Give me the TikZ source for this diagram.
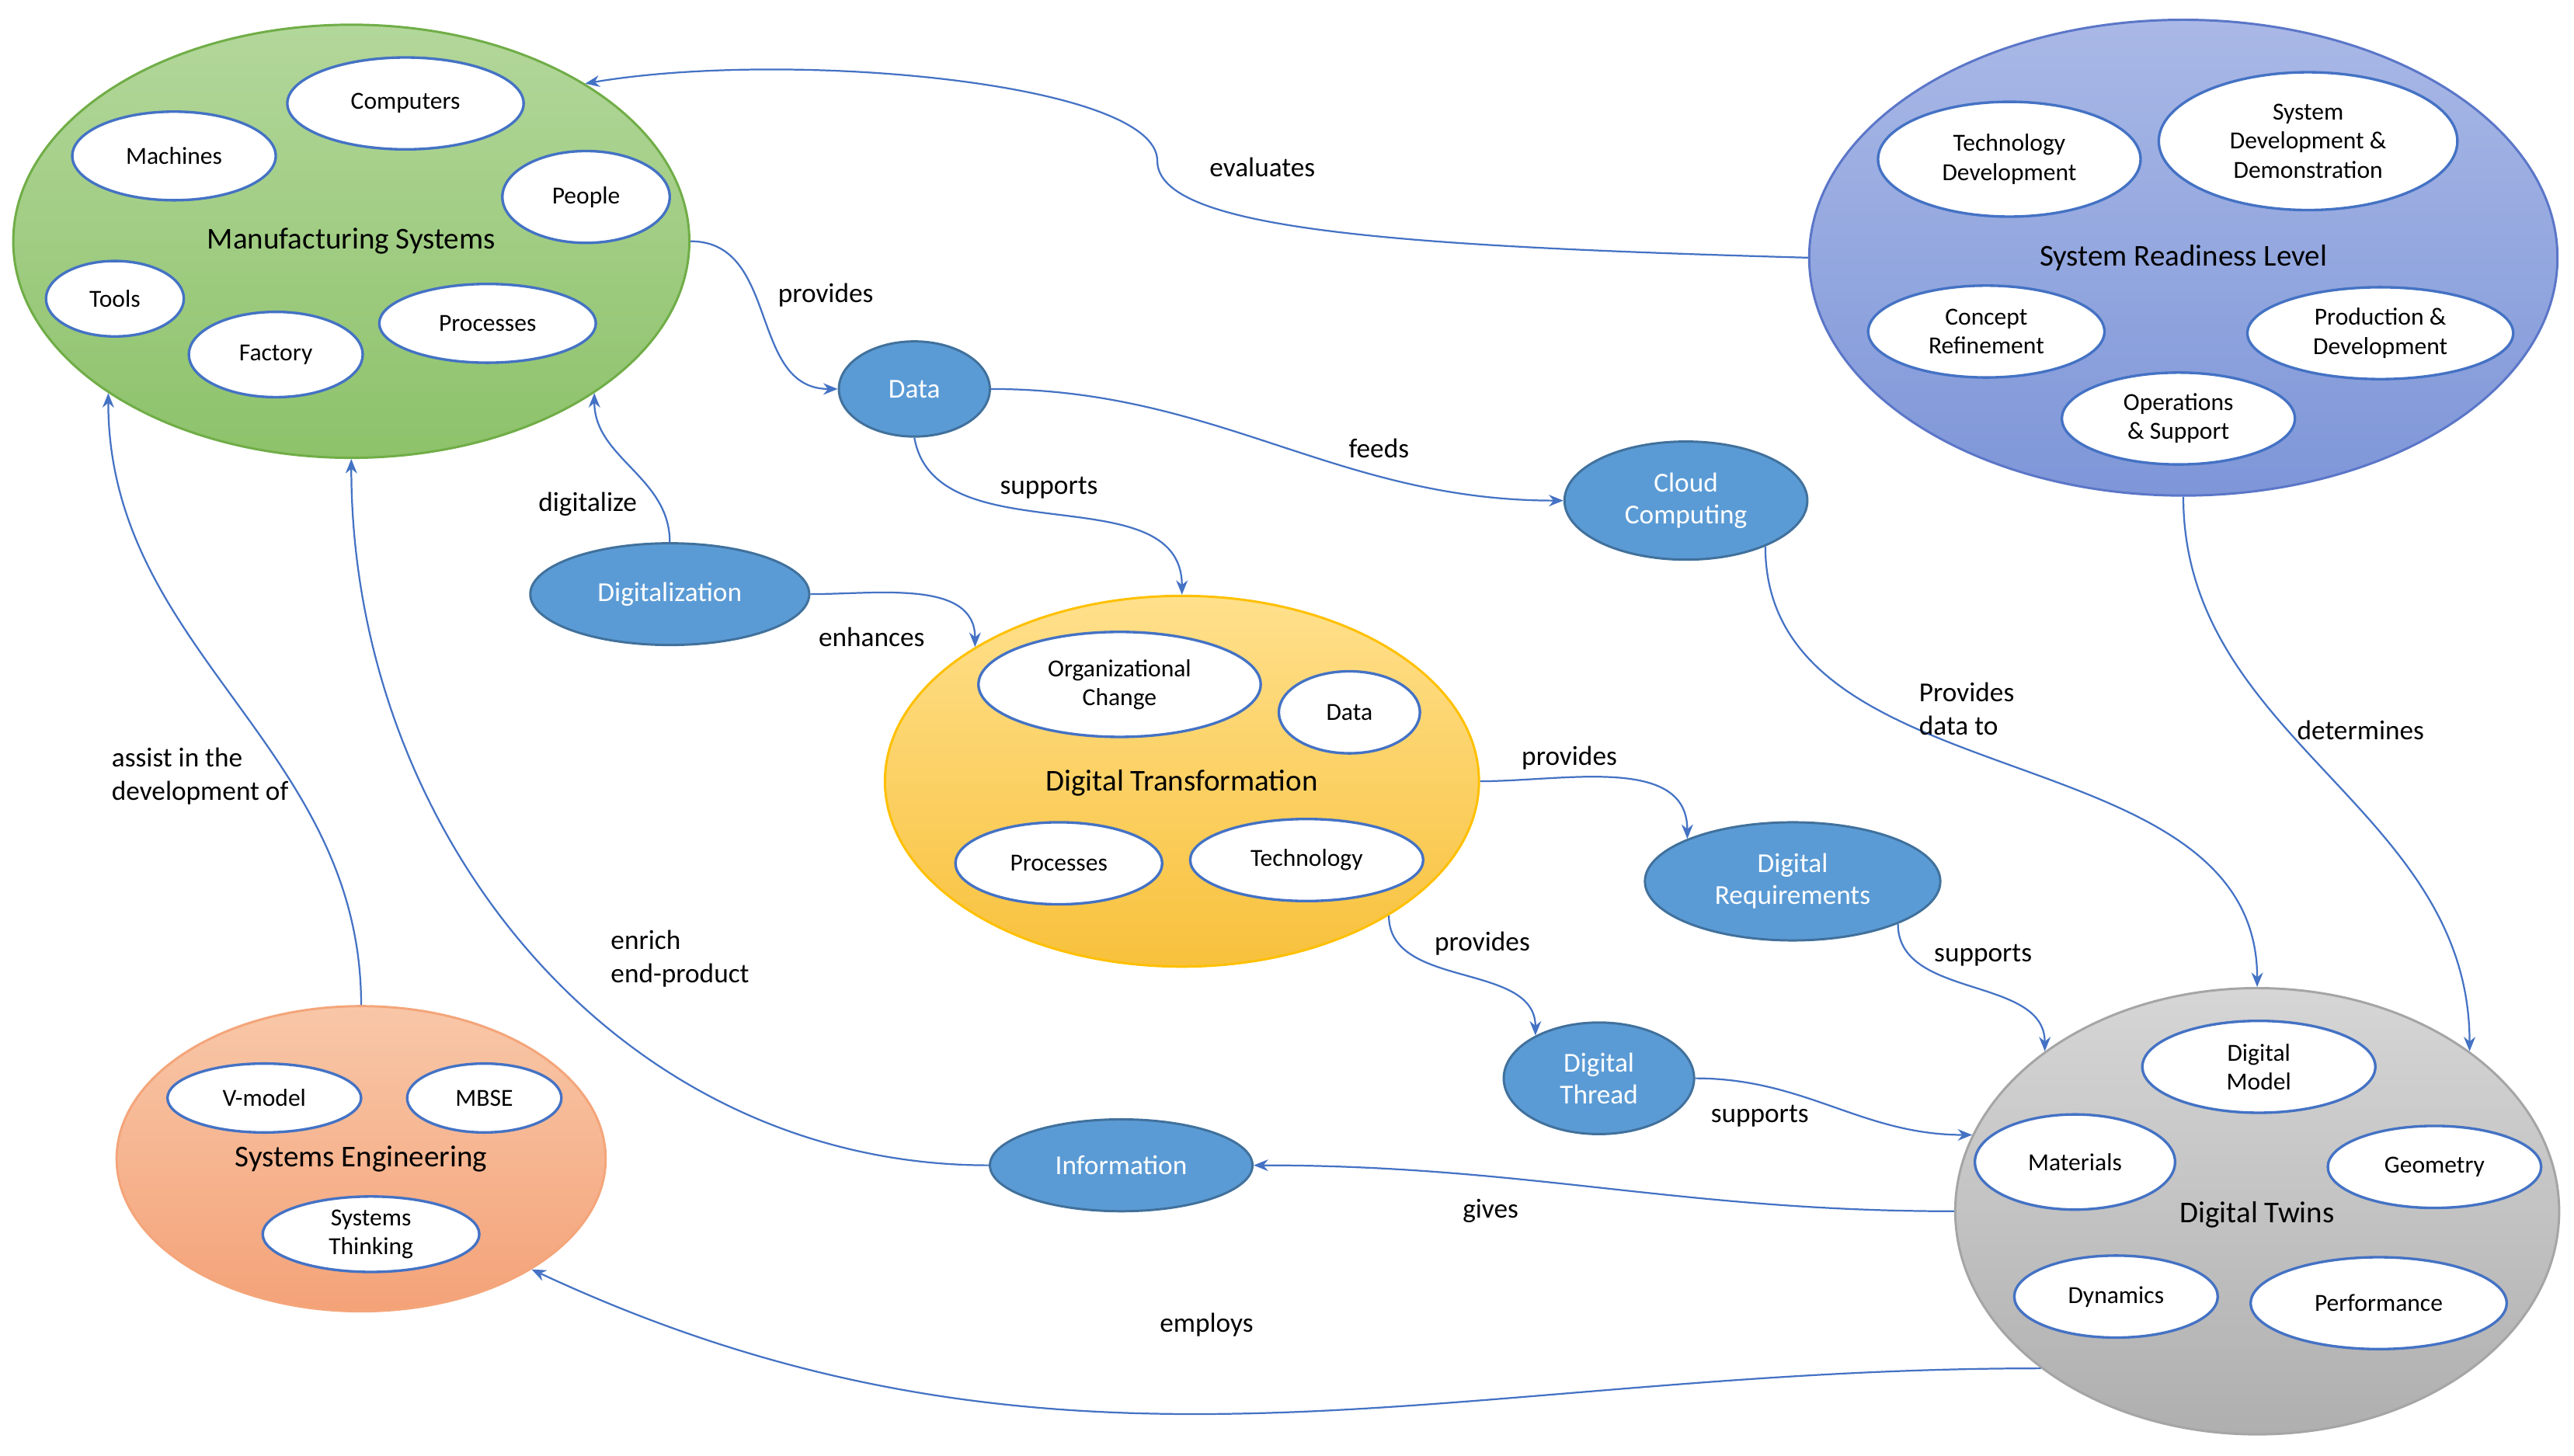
\documentclass[tikz,border=0pt]{standalone}
\usepackage{fontspec}
\setmainfont{Carlito}
\usetikzlibrary{shapes.geometric,arrows.meta}
\definecolor{conn}{HTML}{4472C4}
\definecolor{bluef}{HTML}{5B9BD5}
\definecolor{blueb}{HTML}{41719C}
\definecolor{msB}{HTML}{70AD47}\definecolor{msT}{HTML}{B3D79B}\definecolor{msD}{HTML}{8DC26A}
\definecolor{srB}{HTML}{5B76C8}\definecolor{srT}{HTML}{A9B8E6}\definecolor{srD}{HTML}{7E96D8}
\definecolor{dtB}{HTML}{FFC000}\definecolor{dtT}{HTML}{FFE08C}\definecolor{dtD}{HTML}{F8C13C}
\definecolor{seB}{HTML}{F4A57A}\definecolor{seT}{HTML}{F8C7A8}\definecolor{seD}{HTML}{F4A278}
\definecolor{twB}{HTML}{A5A5A5}\definecolor{twT}{HTML}{D6D6D6}\definecolor{twD}{HTML}{AFAFAF}
\begin{document}
\begin{tikzpicture}[x=0.02cm,y=-0.02cm,
  e/.style 2 args={ellipse,inner sep=0pt,align=center,minimum width=#1*0.04cm,minimum height=#2*0.04cm},
  w/.style={fill=white,draw=conn,line width=0.9pt,font=\fontsize{8.5}{10}\selectfont},
  b/.style={fill=bluef,draw=blueb,line width=0.8pt,text=white,font=\fontsize{9.5}{11}\selectfont},
  big/.style={line width=0.8pt},
  bl/.style={font=\fontsize{10.5}{12}\selectfont},
  c/.style={draw=conn,line width=0.6pt,-{Stealth[length=5pt,width=4pt]}},
  l/.style={font=\fontsize{9.5}{11.5}\selectfont,align=left,inner sep=1pt}]
\useasboundingbox (0,0) rectangle (1568,887);
% big ellipses
\node[e={206}{132},big,draw=msB,top color=msT,bottom color=msD] (ms) at (214,147) {};
\node[e={228}{145},big,draw=srB,top color=srT,bottom color=srD] (srl) at (1330,157) {};
\node[e={181}{113},big,draw=dtB,top color=dtT,bottom color=dtD] (dtr) at (720,476) {};
\node[e={149}{93},big,draw=seB,top color=seT,bottom color=seD] (se) at (220,706) {};
\node[e={184}{136},big,draw=twB,top color=twT,bottom color=twD] (dtw) at (1375,738) {};
\node[bl] (msl) at (214,147) {Manufacturing Systems};
\node[bl] (srll) at (1330,157) {System Readiness Level};
\node[bl] (dtrl) at (720,477) {Digital Transformation};
\node[bl] (sel) at (220,706) {Systems Engineering};
\node[bl] (dtwl) at (1375,740) {Digital Twins};
% inner ellipses
\node[e={72}{28},w] (comp) at (247,63) {Computers};
\node[e={62}{27},w] (mach) at (106,95) {Machines};
\node[e={51}{28},w] (peop) at (357,120) {People};
\node[e={42}{23},w] (tool) at (70,182) {Tools};
\node[e={53}{26},w] (fact) at (168,216) {Factory};
\node[e={66}{24},w] (proc) at (297,197) {Processes};
\node[e={80}{35},w] (tdev) at (1224,97) {Technology\\Development};
\node[e={91}{42},w] (sdd) at (1406,86) {System\\Development \&\\Demonstration};
\node[e={72}{28},w] (cref) at (1210,202) {Concept\\Refinement};
\node[e={81}{28},w] (pdev) at (1450,203) {Production \&\\Development};
\node[e={71}{28},w] (ops) at (1327,255) {Operations\\\& Support};
\node[e={86}{32},w] (org) at (682,417) {Organizational\\Change};
\node[e={43}{25},w] (data2) at (822,434) {Data};
\node[e={63}{25},w] (proc2) at (645,526) {Processes};
\node[e={71}{25},w] (tech) at (796,524) {Technology};
\node[e={59}{21},w] (vm) at (161,669) {V-model};
\node[e={47}{21},w] (mbse) at (295,669) {MBSE};
\node[e={66}{23},w] (sth) at (226,752) {Systems\\Thinking};
\node[e={71}{28},w] (dmod) at (1376,650) {Digital\\Model};
\node[e={61}{29},w] (mat) at (1264,708) {Materials};
\node[e={65}{25},w] (geo) at (1483,711) {Geometry};
\node[e={62}{25},w] (dyn) at (1289,790) {Dynamics};
\node[e={78}{28},w] (perf) at (1449,794) {Performance};
% blue ellipses
\node[e={46}{29},b] (data) at (557,237) {Data};
\node[e={74}{36},b] (cloud) at (1027,305) {Cloud\\Computing};
\node[e={85}{31},b] (dig) at (408,362) {Digitalization};
\node[e={90}{36},b] (dreq) at (1092,537) {Digital\\Requirements};
\node[e={58}{34},b] (dth) at (974,657) {Digital\\Thread};
\node[e={80}{28},b] (info) at (683,710) {Information};
% connectors
\draw[c] (srl.west) .. controls (850,150) and (705,140) .. (705,98) .. controls (705,50) and (480,30) .. (ms.34);
\draw[c] (ms.east) to[out=0,in=180,looseness=1.1] (data.west);
\draw[c] (data.east) to[out=0,in=180] (cloud.west);
\draw[c] (data.south) to[out=-80,in=90] (dtr.north);
\draw[c] (dig.north) to[out=90,in=-90] (ms.-32);
\draw[c] (dig.east) to[out=0,in=90] (dtr.147);
\draw[c] (cloud.-30) to[out=-90,in=90] (dtw.north);
\draw[c] (srl.south) to[out=-90,in=90] (dtw.37);
\draw[c] (dtr.east) to[out=0,in=90] (dreq.158);
\draw[c] (dtr.-33) to[out=-90,in=90] (dth.146);
\draw[c] (dreq.-22) to[out=-90,in=90] (dtw.143);
\draw[c] (dth.east) to[out=0,in=180] (dtw.165);
\draw[c] (dtw.west) to[out=180,in=0] (info.east);
\draw[c] (dtw.216) to[out=180,in=-25] (se.-33);
\draw[c] (info.west) to[out=180,in=-90] (ms.south);
\draw[c] (se.north) to[out=90,in=-90] (ms.212);
% labels
\node[l] (l1) at (769,102) {evaluates};
\node[l] (l2) at (503,180) {provides};
\node[l] (l3) at (840,273) {feeds};
\node[l] (l4) at (639,297) {supports};
\node[l] (l5) at (358,307) {digitalize};
\node[l] (l6) at (531,388) {enhances};
\node[l,anchor=west] (l7) at (1167,432) {Provides\\data to};
\node[l] (l8) at (1438,445) {determines};
\node[l] (l9) at (956,462) {provides};
\node[l] (l10) at (903,575) {provides};
\node[l] (l11) at (1208,582) {supports};
\node[l] (l12) at (1072,680) {supports};
\node[l] (l13) at (908,738) {gives};
\node[l] (l14) at (735,807) {employs};
\node[l,anchor=west] (l15) at (370,584) {enrich\\end-product};
\node[l,anchor=west] (l16) at (66,473) {assist in the\\development of};
\end{tikzpicture}
\end{document}
